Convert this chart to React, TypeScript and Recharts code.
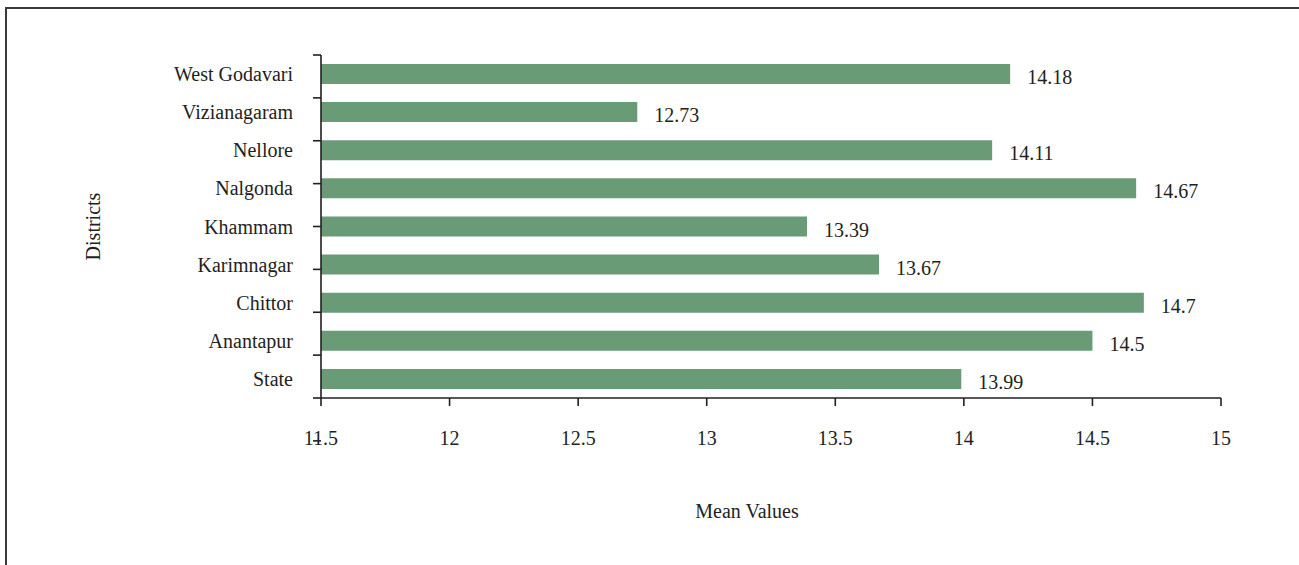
import React from "react";
import { BarChart, Bar, XAxis, YAxis, LabelList } from "recharts";

// Mean values by district (top to bottom as drawn)
const districts = [
  "West Godavari",
  "Vizianagaram",
  "Nellore",
  "Nalgonda",
  "Khammam",
  "Karimnagar",
  "Chittor",
  "Anantapur",
  "State",
];
const meanValues = [14.18, 12.73, 14.11, 14.67, 13.39, 13.67, 14.7, 14.5, 13.99];
const xTicks = [11.5, 12, 12.5, 13, 13.5, 14, 14.5, 15];
const bandTicks = [0, 1, 2, 3, 4, 5, 6, 7, 8, 9];

const FONT = "'Liberation Serif', 'DejaVu Serif', serif";
const INK = "#231f20";

export default function App() {
  const data = districts.map((name, i) => ({ name, value: meanValues[i] }));

  return (
    <div style={{ position: "fixed", left: 0, top: 0, width: 1299, height: 565, overflow: "hidden", background: "#fff" }}>
      <div
        style={{
          position: "absolute",
          left: 5,
          top: 7,
          width: 1400,
          height: 700,
          borderTop: "2px solid #3a3a3a",
          borderLeft: "2px solid #3a3a3a",
        }}
      />
      <div style={{ position: "absolute", left: 0, top: 0 }}>
        <BarChart
          width={1299}
          height={565}
          data={data}
          layout="vertical"
          margin={{ top: 55, right: 78, bottom: 107, left: 81 }}
        >
          <XAxis
            type="number"
            domain={[11.5, 15]}
            ticks={xTicks}
            interval={0}
            height={60}
            tickSize={8}
            tickMargin={25}
            axisLine={{ stroke: INK, strokeWidth: 1.6 }}
            tickLine={{ stroke: INK, strokeWidth: 1.6 }}
            tick={{ fill: INK, fontSize: 20, fontFamily: FONT }}
            label={{
              value: "Mean Values",
              position: "bottom",
              offset: 46,
              dx: -24,
              style: { fill: INK, fontSize: 20, fontFamily: FONT },
            }}
          />
          {/* boundary ticks between categories */}
          <YAxis
            yAxisId="band"
            type="number"
            domain={[0, 9]}
            ticks={bandTicks}
            interval={0}
            width={1}
            tickSize={8}
            axisLine={{ stroke: INK, strokeWidth: 1.6 }}
            tickLine={{ stroke: INK, strokeWidth: 1.6 }}
            tick={() => <g />}
          />
          <YAxis
            yAxisId="cat"
            type="category"
            dataKey="name"
            width={239}
            axisLine={false}
            tickLine={false}
            tickMargin={21}
            tick={{ fill: INK, fontSize: 20, fontFamily: FONT }}
            label={{
              value: "Districts",
              angle: -90,
              position: "center",
              dx: -108,
              style: { fill: INK, fontSize: 20, fontFamily: FONT },
            }}
          />
          <Bar yAxisId="cat" dataKey="value" fill="#6a9b77" barSize={20} isAnimationActive={false}>
            <LabelList
              dataKey="value"
              position="right"
              offset={17}
              dy={3}
              fill={INK}
              style={{ fontSize: 20, fontFamily: FONT }}
            />
          </Bar>
        </BarChart>
      </div>
    </div>
  );
}
